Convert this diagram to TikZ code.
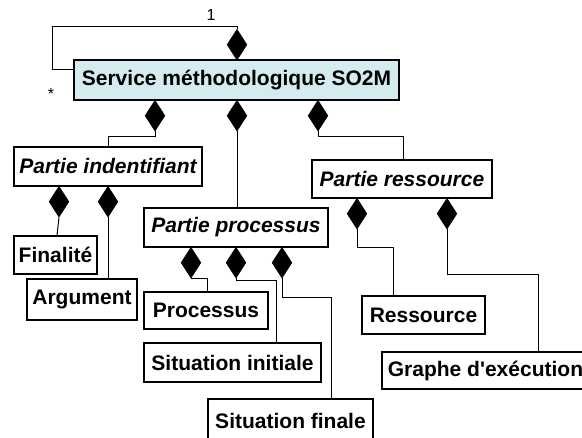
\documentclass[tikz,border=0pt]{standalone}
\usepackage{fontspec}
\newfontfamily\umlfont{Liberation Sans}
\usetikzlibrary{shapes.geometric}
\definecolor{servicefill}{RGB}{212,236,240}
\begin{document}
\begin{tikzpicture}[x=1pt,y=-1pt,
  umlbox/.style={draw, line width=1.5pt, inner sep=0pt, font=\umlfont\fontsize{21}{24}\selectfont\bfseries},
  partbox/.style={umlbox, font=\umlfont\fontsize{21}{24}\selectfont\bfseries\itshape},
  compo/.style={draw, fill=black, diamond, inner sep=0pt, minimum width=20pt, minimum height=31pt, anchor=north},
  link/.style={line width=1pt},
  mult/.style={font=\umlfont\fontsize{16}{18}\selectfont}
]
\useasboundingbox (0,0) rectangle (582,438);

% classes
\node[umlbox, fill=servicefill, minimum width=325pt, minimum height=40pt] (svc) at (236.5,80) {Service méthodologique SO2M};
\node[partbox, minimum width=188pt, minimum height=39pt] (pid) at (108,166.5) {Partie indentifiant};
\node[partbox, minimum width=184pt, minimum height=39pt] (ppr) at (236,227.5) {Partie processus};
\node[partbox, minimum width=180pt, minimum height=38pt] (pre) at (402,179) {Partie ressource};
\node[umlbox, minimum width=83pt, minimum height=38pt] (fin) at (55.5,255) {Finalité};
\node[umlbox, minimum width=110pt, minimum height=41pt] (arg) at (82,299.5) {Argument};
\node[umlbox, minimum width=124pt, minimum height=37pt] (proc) at (206,310.5) {Processus};
\node[umlbox, minimum width=177pt, minimum height=39pt] (sini) at (232.5,362.5) {Situation initiale};
\node[umlbox, minimum width=165pt, minimum height=44pt] (sfin) at (290.5,421) {Situation finale};
\node[umlbox, minimum width=123pt, minimum height=38pt] (rsc) at (423.5,315) {Ressource};
\node[umlbox, minimum width=207pt, minimum height=37pt] (gra) at (485.5,370.5) {Graphe d'exécution};

% composition diamonds
\node[compo] (dself) at (237,29) {};
\node[compo] (d1) at (155,100) {};
\node[compo] (d2) at (237,100) {};
\node[compo] (d3) at (318,100) {};
\node[compo] (d4) at (59,186) {};
\node[compo] (d5) at (108,186) {};
\node[compo] (d6) at (191,247) {};
\node[compo] (d7) at (236,247) {};
\node[compo] (d8) at (282,247) {};
\node[compo] (d9) at (357,198) {};
\node[compo] (d10) at (447,198) {};

% connectors
\coordinate (loopA) at (52,70);
\coordinate (loopB) at (52,27);
\draw[link] (svc.west |- loopA) -- (loopA) -- (loopB) -- (dself.north |- loopB) -- (dself.north);
\draw[link] (d1.south) -- ++(0,5) -| (pid.north);
\draw[link] (d2.south) -- (d2.south |- ppr.north);
\draw[link] (d3.south) -- ++(0,5) -| ([xshift=1pt]pre.north);
\draw[link] (d4.south) -- ([xshift=1.5pt]fin.north);
\draw[link] (d5.south) -- (d5.south |- arg.north);
\draw[link] (d6.south) -- ++(16,0) |- ([xshift=1pt]proc.north) ;
\draw[link] (d7.south) -- ++(0,2) -- ++(40,0) -- (276,0 |- sini.north);
\draw[link] (d8.south) -- ++(0,19) -- ++(49,0) -- (331,0 |- sfin.north);
\draw[link] (d9.south) -- ++(0,18) -- ++(36,0) -- (393,0 |- rsc.north);
\draw[link] (d10.south) -- ++(0,45) -- ++(91,0) -- (538,0 |- gra.north);

% multiplicities
\node[mult] (m1) at (211,15) {1};
\node[mult] (m2) at (51,94) {*};
\end{tikzpicture}
\end{document}
